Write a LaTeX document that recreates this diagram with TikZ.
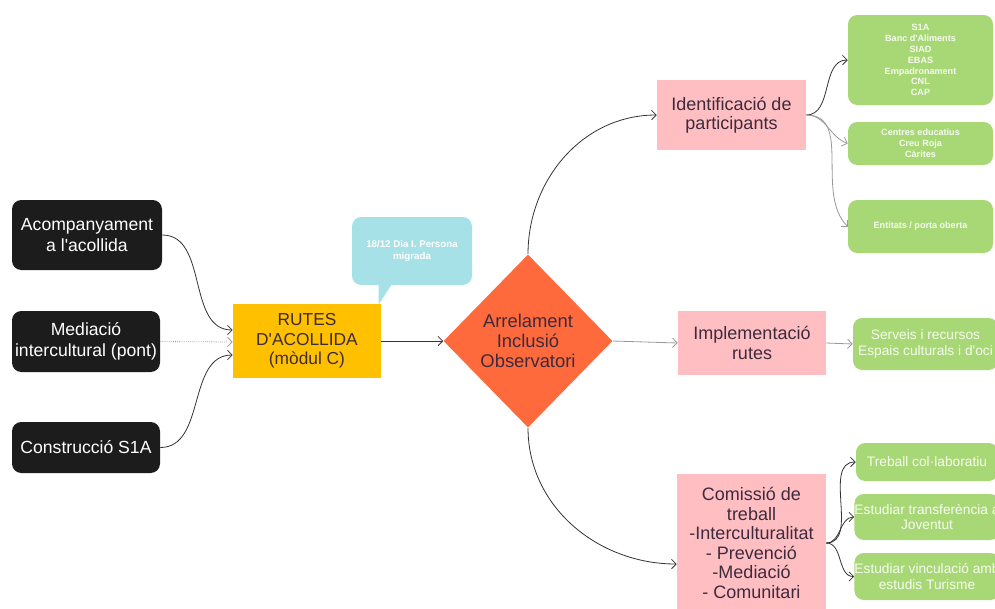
\documentclass[tikz,border=0pt]{standalone}
\usepackage{fontspec}
\setmainfont{Liberation Sans}[Ligatures=TeXOff]
\usetikzlibrary{shapes.geometric,arrows.meta,calc}
\definecolor{blackb}{HTML}{1C1C1C}
\definecolor{yel}{HTML}{FFC000}
\definecolor{cyanb}{HTML}{A5E1E6}
\definecolor{dia}{HTML}{FF6A3D}
\definecolor{pinkb}{HTML}{FFBEC2}
\definecolor{greenb}{HTML}{A8D875}
\definecolor{txtdark}{HTML}{3D2B3D}
\definecolor{gtxt}{HTML}{F6FBF0}
\definecolor{conncol}{HTML}{333333}
\begin{document}
\begin{tikzpicture}[x=0.75pt,y=0.75pt,
  blackbox/.style={fill=blackb, rounded corners=7pt, text=white, align=center, inner sep=0pt,
    font=\fontsize{13.2}{15.5}\selectfont},
  yelbox/.style={fill=yel, text=txtdark, align=center, inner sep=0pt,
    font=\fontsize{13}{14.5}\selectfont},
  pinkbox/.style={fill=pinkb, text=txtdark, align=center, inner sep=0pt,
    font=\fontsize{13.5}{14.6}\selectfont},
  diabox/.style={diamond, fill=dia, text=txtdark, align=center, inner sep=0pt,
    font=\fontsize{13.8}{15}\selectfont},
  greenbox/.style={fill=greenb, rounded corners=7pt, text=gtxt, align=center, inner sep=0pt,
    font=\fontsize{10.3}{11.8}\selectfont},
  greensmall/.style={greenbox, font=\fontsize{6.8}{8.2}\selectfont\bfseries},
  bubblebox/.style={fill=cyanb, rounded corners=7pt, text=white, align=center, inner sep=0pt,
    font=\fontsize{7.3}{9}\selectfont\bfseries},
  conn/.style={draw=conncol, line width=0.6pt, -{Straight Barb[length=3.5pt,width=7pt]}},
  connlight/.style={conn, draw=gray!80}
]
\clip (0,0) rectangle (995,-608);
\fill[white] (0,0) rectangle (995,-608);

% left black boxes
\node[blackbox, minimum width=112.5pt, minimum height=52.5pt] (acomp) at (87,-235) {Acompanyament\\a l'acollida};
\node[blackbox, minimum width=111pt, minimum height=45.75pt] (medi) at (86,-341.5) {Mediació\\intercultural (pont)};
\node[blackbox, minimum width=111pt, minimum height=38.25pt] (const) at (86,-447.5) {Construcció S1A};

% bubble
\node[bubblebox, minimum width=90pt, minimum height=51pt] (bubble) at (412,-251) {18/12 Dia I. Persona\\migrada};
\fill[cyanb] ($(bubble.south west)+(27,1)$) -- ($(bubble.south west)+(27,-19)$) -- ($(bubble.south west)+(40,1)$) -- cycle;

% rutes
\node[yelbox, minimum width=111pt, minimum height=55.5pt] (rutes) at (307,-341) {RUTES\\D'ACOLLIDA\\(mòdul C)};

% diamond
\node[diabox, minimum width=126.75pt, minimum height=129.75pt] (arr) at (528,-341) {Arrelament\\Inclusió\\Observatori};

% pink boxes
\node[pinkbox, minimum width=111.75pt, minimum height=52.5pt] (ident) at (731.5,-115) {Identificació de\\participants};
\node[pinkbox, minimum width=111pt, minimum height=48pt] (impl) at (752,-343) {Implementació\\rutes};
\node[pinkbox, minimum width=111.75pt, minimum height=103.5pt] (comis) at (751.5,-543) {Comissió de\\treball\\-Interculturalitat\\- Prevenció\\-Mediació\\- Comunitari};

% green boxes
\node[greensmall, minimum width=108.75pt, minimum height=67.5pt] (g1) at (920.5,-60) {S1A\\Banc d'Aliments\\SIAD\\EBAS\\Empadronament\\CNL\\CAP};
\node[greensmall, minimum width=108.75pt, minimum height=32.25pt] (g2) at (920.5,-143.5) {Centres educatius\\Creu Roja\\Càrites};
\node[greensmall, minimum width=108.75pt, minimum height=39.75pt] (g3) at (920.5,-226.5) {Entitats / porta oberta};
\node[greenbox, minimum width=108.75pt, minimum height=39pt] (serv) at (925.5,-344) {Serveis i recursos\\Espais culturals i d'oci};
\node[greenbox, minimum width=106.5pt, minimum height=28.5pt] (treb) at (927,-462) {Treball col·laboratiu};
\node[greenbox, minimum width=106.5pt, minimum height=34.5pt] (est1) at (927,-517) {Estudiar transferència a\\Joventut};
\node[greenbox, minimum width=106.5pt, minimum height=35.25pt] (est2) at (927,-576.5) {Estudiar vinculació amb\\estudis Turisme};

% connectors
\draw[conn] (acomp.east) to[out=0,in=180] ($(rutes.west)+(0,11)$);
\draw[connlight, densely dotted] (medi.east) -- ($(rutes.west)+(0,-1)$);
\draw[conn] (const.east) to[out=0,in=180] ($(rutes.west)+(0,-14)$);
\draw[conn] (rutes.east) -- (arr.west);
\draw[conn] (arr.north) to[out=90,in=180] (ident.west);
\draw[connlight] (arr.east) -- (impl.west);
\draw[conn] (arr.south) to[out=-90,in=180] ($(comis.west)+(0,-21)$);
\draw[conn] (ident.east) to[out=0,in=180] (g1.west);
\draw[connlight] (ident.east) to[out=0,in=160] (g2.west);
\draw[connlight] (ident.east) to[out=0,in=135] (g3.west);
\draw[connlight] (impl.east) -- (serv.west);
\draw[conn] (comis.east) to[out=0,in=180] (treb.west);
\draw[conn] (comis.east) to[out=0,in=180] (est1.west);
\draw[conn] (comis.east) to[out=0,in=180] (est2.west);
\end{tikzpicture}
\end{document}
